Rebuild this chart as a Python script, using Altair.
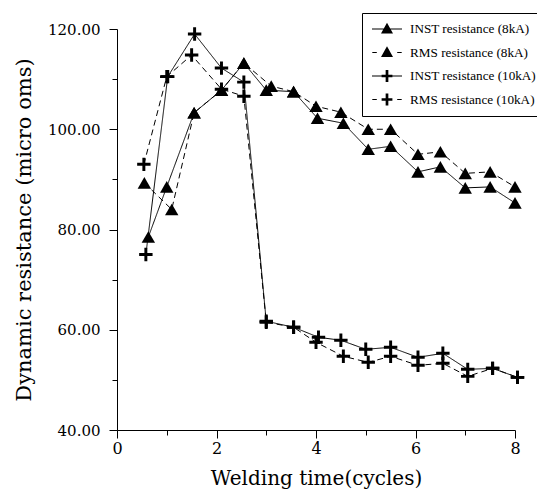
import altair as alt
import pandas as pd

series_names = ["INST resistance (8kA)", "RMS resistance (8kA)",
                "INST resistance (10kA)", "RMS resistance (10kA)"]

inst8_x = [0.63, 1.0, 1.55, 2.1, 2.55, 3.0, 3.55, 4.03, 4.55, 5.05, 5.5, 6.05, 6.5, 7.0, 7.5, 8.0]
inst8_y = [78.5, 88.5, 103.3, 107.8, 113.2, 107.8, 107.5, 102.2, 101.2, 96.0, 96.6, 91.5, 92.5, 88.3, 88.5, 85.3]
rms8_x = [0.55, 1.1, 1.55, 2.1, 2.55, 3.1, 3.55, 4.0, 4.5, 5.05, 5.5, 6.05, 6.5, 7.0, 7.5, 8.0]
rms8_y = [89.3, 84.0, 103.3, 107.8, 113.2, 108.6, 107.5, 104.6, 103.4, 100.0, 100.0, 95.0, 95.5, 91.2, 91.5, 88.5]
inst10_x = [0.58, 1.02, 1.56, 2.1, 2.55, 3.0, 3.55, 4.05, 4.5, 5.0, 5.5, 6.05, 6.55, 7.05, 7.55, 8.05]
inst10_y = [75.0, 110.5, 119.0, 112.2, 109.4, 61.7, 60.5, 58.5, 57.9, 56.1, 56.5, 54.5, 55.3, 52.1, 52.3, 50.5]
rms10_x = [0.54, 1.0, 1.5, 2.1, 2.55, 3.0, 3.55, 4.0, 4.55, 5.05, 5.5, 6.05, 6.55, 7.05, 7.55, 8.05]
rms10_y = [93.0, 110.5, 114.8, 108.0, 106.6, 61.5, 60.5, 57.5, 54.7, 53.5, 54.7, 52.9, 53.3, 50.7, 52.3, 50.5]

x_ticks = [0, 1, 2, 3, 4, 5, 6, 7, 8]
y_ticks = [40, 50, 60, 70, 80, 90, 100, 110, 120]

rows = []
for name, xs, ys in zip(series_names,
                        [inst8_x, rms8_x, inst10_x, rms10_x],
                        [inst8_y, rms8_y, inst10_y, rms10_y]):
    for xv, yv in zip(xs, ys):
        rows.append({"series": name, "t": xv, "r": yv})
df = pd.DataFrame(rows)

SERIF = "DejaVu Serif"

# plot-marker cross (bold plus)
cross_path = "M-1,-0.22H-0.22V-1H0.22V-0.22H1V0.22H0.22V1H-0.22V0.22H-1Z"
# legend glyphs built from filled pieces only (line stub + marker)
stub_full = "M-1,-0.035H1V0.035H-1Z"
stub_dash = "M-0.98,-0.035H-0.68V0.035H-0.98Z M0.68,-0.035H0.98V0.035H0.68Z"
tri_glyph = "M-0.4,0.3L0,-0.42L0.4,0.3Z"
plus_glyph = "M-0.36,-0.09H-0.09V-0.4H0.09V-0.09H0.36V0.09H0.09V0.4H-0.09V0.09H-0.36Z"
leg_paths = [stub_full + " " + tri_glyph,
             stub_dash + " " + tri_glyph,
             stub_full + " " + plus_glyph,
             stub_dash + " " + plus_glyph]

x_enc = alt.X(
    "t:Q",
    scale=alt.Scale(domain=[0, 8], nice=False, zero=False),
    axis=alt.Axis(
        values=x_ticks,
        labelExpr="datum.value % 2 == 0 ? datum.label : ''",
        tickSize={"condition": {"test": "datum.value % 2 == 0", "value": 8}, "value": 5},
        title="Welding time(cycles)",
        labelPadding=2,
        titlePadding=12,
        labelFontSize=16,
        titleFontSize=20,
    ),
)
y_enc = alt.Y(
    "r:Q",
    scale=alt.Scale(domain=[40, 120], nice=False, zero=False),
    axis=alt.Axis(
        values=y_ticks,
        labelExpr="datum.value % 20 == 0 ? format(datum.value, '.2f') : ''",
        tickSize={"condition": {"test": "datum.value % 20 == 0", "value": 8}, "value": 5},
        title="Dynamic resistance (micro oms)",
        labelPadding=9,
        titlePadding=13,
        labelFontSize=15,
        titleFontSize=21,
    ),
)

base = alt.Chart(df)

lines = base.mark_line(color="black", strokeWidth=1).encode(
    x=x_enc,
    y=y_enc,
    detail="series:N",
    order="t:Q",
    strokeDash=alt.StrokeDash(
        "series:N",
        scale=alt.Scale(domain=series_names, range=[[1, 0], [6, 4], [1, 0], [6, 4]]),
        legend=None,
    ),
)

points = base.mark_point(filled=True, color="black", opacity=1, size=180).encode(
    x=x_enc,
    y=y_enc,
    shape=alt.Shape(
        "series:N",
        scale=alt.Scale(domain=series_names,
                        range=["triangle-up", "triangle-up", cross_path, cross_path]),
        legend=None,
    ),
)

legend_layer = base.mark_point(filled=True, color="black", opacity=0).encode(
    x=x_enc,
    y=y_enc,
    shape=alt.Shape(
        "series:N",
        scale=alt.Scale(domain=series_names, range=leg_paths),
        legend=alt.Legend(
            title=None,
            orient="none",
            legendX=245,
            legendY=-16,
            padding=9,
            strokeColor="black",
            fillColor="white",
            symbolSize=900,
            symbolOpacity=1,
            symbolFillColor="black",
            clipHeight=14,
            rowPadding=9.5,
            labelOffset=7,
            labelFont="Liberation Serif",
            labelFontSize=13.2,
            labelColor="black",
            labelLimit=300,
        ),
    ),
)

chart = (
    alt.layer(lines, points, legend_layer)
    .resolve_scale(shape="independent")
    .properties(
        width=398,
        height=401,
        autosize=alt.AutoSizeParams(type="none"),
        padding={"left": 109, "top": 21, "right": 22, "bottom": 64},
    )
    .configure_view(stroke=None)
    .configure_axis(
        grid=False,
        domainColor="black",
        tickColor="black",
        labelColor="black",
        titleColor="black",
        labelFont=SERIF,
        titleFont=SERIF,
        titleFontWeight="normal",
        labelFlush=False,
        labelOverlap=False,
    )
)

chart.save("out.html", embed_options={"renderer": "svg", "actions": False})
